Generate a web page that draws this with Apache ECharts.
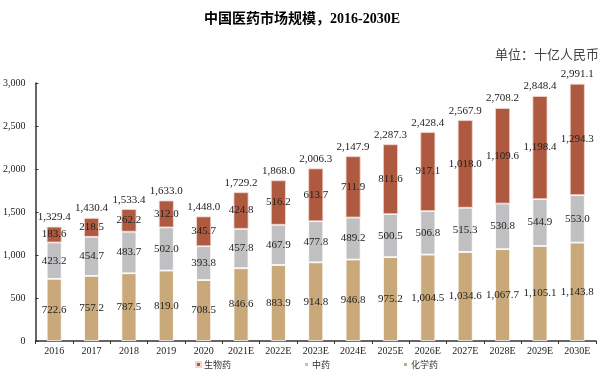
<!DOCTYPE html>
<html><head><meta charset="utf-8">
<script src="https://cdn.jsdelivr.net/npm/echarts@6/dist/echarts.min.js"></script>
<style>html,body{margin:0;padding:0;background:#fff}#c{width:604px;height:378px}</style>
</head><body><div id="c"></div>
<script>
const categories = ['2016','2017','2018','2019','2020','2021E','2022E','2023E','2024E','2025E','2026E','2027E','2028E','2029E','2030E'];
const chemical = [722.6,757.2,787.5,819.0,708.5,846.6,883.9,914.8,946.8,975.2,1004.5,1034.6,1067.7,1105.1,1143.8];
const tcm = [423.2,454.7,483.7,502.0,393.8,457.8,467.9,477.8,489.2,500.5,506.8,515.3,530.8,544.9,553.0];
const biologic = [183.6,218.5,262.2,312.0,345.7,424.8,516.2,613.7,711.9,811.6,917.1,1018.0,1109.6,1198.4,1294.3];
const totals = [1329.4,1430.4,1533.4,1633.0,1448.0,1729.2,1868.0,2006.3,2147.9,2287.3,2428.4,2567.9,2708.2,2848.4,2991.1];
const yTicks = [0,500,1000,1500,2000,2500,3000];

function fmt(v){
  const s = v.toFixed(1);
  const parts = s.split('.');
  parts[0] = parts[0].replace(/\B(?=(\d{3})+(?!\d))/g, ',');
  return parts.join('.');
}
const serif = '"Liberation Serif", "Times New Roman", serif';
const cjk = '"Noto Sans CJK SC", sans-serif';
const lbl = {show:true, position:'inside', color:'#222', fontFamily:serif, fontSize:11, formatter:p=>fmt(p.value)};
const chart = echarts.init(document.getElementById('c'));
chart.setOption({
  animation:false,
  title:[
    {text:'中国医药市场规模，2016-2030E', left:'center', top:7,
     textStyle:{fontSize:14, fontWeight:'bold', color:'#000', fontFamily:'"Liberation Serif", "Noto Sans CJK SC", serif'}},
    {text:'单位：十亿人民币', right:0, top:43,
     textStyle:{fontSize:13, fontWeight:'normal', color:'#444', fontFamily:cjk}}
  ],
  legend:{
    data:['生物药','中药','化学药'], bottom:4, left:190, itemWidth:5, itemHeight:5, itemGap:72,
    icon:'rect', textStyle:{fontSize:9, color:'#333', fontFamily:cjk, padding:[0,0,0,-2]}
  },
  grid:{left:34, right:8, top:83, bottom:37},
  xAxis:{
    type:'category', data:categories,
    axisLine:{lineStyle:{color:'#333', width:1.5}},
    axisTick:{show:true, alignWithLabel:false, length:3, lineStyle:{color:'#333'}},
    axisLabel:{color:'#222', fontFamily:serif, fontSize:10, margin:5}
  },
  yAxis:{
    type:'value', min:yTicks[0], max:yTicks[yTicks.length-1], interval:500,
    axisLine:{show:true, lineStyle:{color:'#333', width:1.5}},
    axisTick:{show:true, inside:true, length:3, lineStyle:{color:'#333'}},
    splitLine:{show:false},
    axisLabel:{color:'#222', fontFamily:serif, fontSize:10, margin:10,
      formatter:v=>v.toString().replace(/\B(?=(\d{3})+(?!\d))/g, ',')}
  },
  series:[
    {name:'化学药', type:'bar', stack:'t', data:chemical, barWidth:'40%',
     itemStyle:{color:'#C9A979', borderColor:'#fff', borderWidth:0.8}, label:lbl},
    {name:'中药', type:'bar', stack:'t', data:tcm,
     itemStyle:{color:'#C0C0C2', borderColor:'#fff', borderWidth:0.8}, label:lbl},
    {name:'生物药', type:'bar', stack:'t', data:biologic,
     itemStyle:{color:'#AF5A40', borderColor:'#f0d8d0', borderWidth:0.8}, label:lbl},
    {name:'total', type:'bar', stack:'t', data:totals.map(()=>0),
     itemStyle:{color:'transparent'},
     label:{show:true, position:'top', distance:4, color:'#222', fontFamily:serif, fontSize:11,
       formatter:p=>fmt(totals[p.dataIndex])}}
  ]
});
</script></body></html>
